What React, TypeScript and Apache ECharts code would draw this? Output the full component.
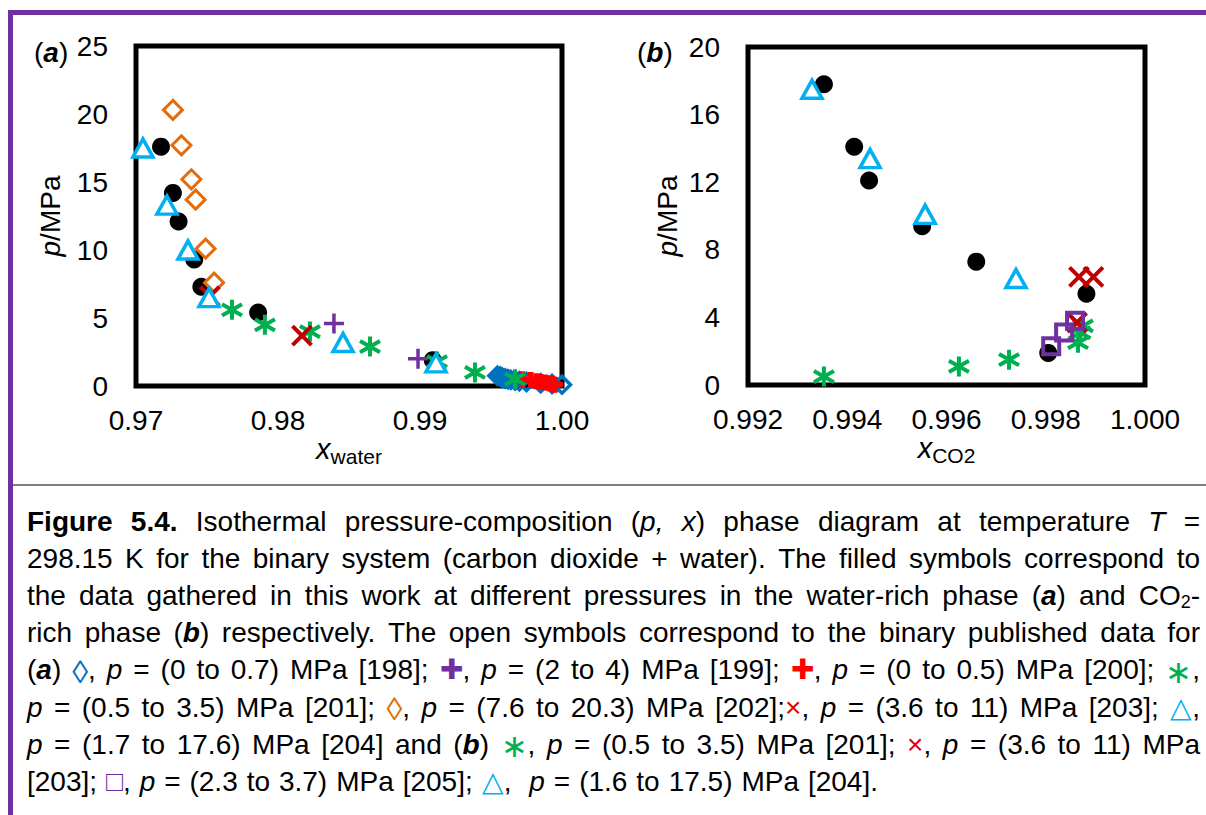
import React, { useEffect, useRef } from 'react';
import * as echarts from 'echarts';

const FONT = '"Liberation Sans", Arial, Helvetica, sans-serif';

// ---------- axis ranges [min, max, interval] ----------
const xAxisA = [0.97, 1.0, 0.01];
const yAxisA = [0, 25, 5];
const xAxisB = [0.992, 1.0, 0.002];
const yAxisB = [0, 20, 4];

// ---------- panel (a): water-rich phase, [x_water, p/MPa] ----------
const thisWorkA = [[0.97176, 17.6], [0.9726, 14.2], [0.973, 12.1], [0.9741, 9.3], [0.9746, 7.3], [0.9786, 5.4], [0.9909, 1.9]];
const ref198A = [[0.99545, 0.75], [0.99565, 0.7], [0.9958, 0.6], [0.996, 0.55], [0.9962, 0.5], [0.9964, 0.45], [0.9967, 0.4], [0.997, 0.35], [0.9975, 0.3], [0.9985, 0.2], [0.9993, 0.15], [1.0, 0.1]];
const ref199A = [[0.98394, 4.6], [0.98986, 2.0]];
const ref200A = [[0.9972, 0.5], [0.9978, 0.45], [0.9982, 0.35], [0.9985, 0.3], [0.9988, 0.25], [0.9991, 0.2], [0.9993, 0.15], [0.9995, 0.1]];
const ref201A = [[0.97676, 5.6], [0.97908, 4.5], [0.98225, 4.0], [0.98648, 2.9], [0.9912, 1.8], [0.99387, 1.0], [0.99669, 0.5]];
const ref202A = [[0.9726, 20.3], [0.9732, 17.7], [0.9739, 15.2], [0.9742, 13.7], [0.9749, 10.1], [0.9755, 7.6]];
const ref203A = [[0.9752, 6.6], [0.98169, 3.7]];
const ref204A = [[0.97049, 17.5], [0.97218, 13.3], [0.97366, 10.0], [0.97514, 6.5], [0.98458, 3.2], [0.99113, 1.7]];

// ---------- panel (b): CO2-rich phase, [x_CO2, p/MPa] ----------
const thisWorkB = [[0.99353, 17.8], [0.99414, 14.1], [0.99444, 12.1], [0.99551, 9.4], [0.9966, 7.3], [0.99882, 5.4], [0.99805, 1.9]];
const ref201B = [[0.99353, 0.5], [0.99625, 1.1], [0.99726, 1.5], [0.99865, 2.5], [0.9987, 3.1], [0.99875, 3.5]];
const ref203B = [[0.99867, 6.4], [0.99896, 6.4], [0.99863, 3.7]];
const ref205B = [[0.99811, 2.3], [0.99837, 3.1], [0.99859, 3.8]];
const ref204B = [[0.99329, 17.5], [0.99446, 13.4], [0.99557, 10.1], [0.9974, 6.3]];

// ---------- caption ----------
type Seg = [string, string?, string?];
const captionLines: Seg[][] = [
  [['Figure 5.4.', 'b'], [' Isothermal pressure-composition ('], ['p, x', 'i'], [') phase diagram at temperature '], ['T', 'i'], [' =']],
  [['298.15 K for the binary system (carbon dioxide + water). The filled symbols correspond to']],
  [['the data gathered in this work at different pressures in the water-rich phase ('], ['a', 'bi'], [') and CO'], ['2', 'sub'], ['-']],
  [['rich phase ('], ['b', 'bi'], [') respectively. The open symbols correspond to the binary published data for']],
  [['('], ['a', 'bi'], [') '], ['◊', 'sym', '#0070C0'], [', '], ['p', 'i'], [' = (0 to 0.7) MPa [198]; '], ['✚', 'n', '#7030A0'], [', '], ['p', 'i'], [' = (2 to 4) MPa [199]; '], ['✚', 'n', '#FF0000'], [', '], ['p', 'i'], [' = (0 to 0.5) MPa [200]; '], ['∗', 'sym', '#00B050'], [',']],
  [['p', 'i'], [' = (0.5 to 3.5) MPa [201]; '], ['◊', 'sym', '#E46C0A'], [', '], ['p', 'i'], [' = (7.6 to 20.3) MPa [202];'], ['×', 'n', '#E00000'], [', '], ['p', 'i'], [' = (3.6 to 11) MPa [203]; '], ['△', 'n', '#00B0F0'], [',']],
  [['p', 'i'], [' = (1.7 to 17.6) MPa [204] and ('], ['b', 'bi'], [') '], ['∗', 'sym', '#00B050'], [', '], ['p', 'i'], [' = (0.5 to 3.5) MPa [201]; '], ['×', 'n', '#E00000'], [', '], ['p', 'i'], [' = (3.6 to 11) MPa']],
  [['[203]; '], ['□', 'n', '#7030A0'], [', '], ['p', 'i'], [' = (2.3 to 3.7) MPa [205]; '], ['△', 'n', '#00B0F0'], [',  '], ['p', 'i'], [' = (1.6 to 17.5) MPa [204].']],
];

const CAP_SIZE = 28;
const CAP_X0 = 27;
const CAP_X1 = 1200;
const CAP_Y0 = 521;
const CAP_LH = 37.2;

function segFont(st: string) {
  const size = st === 'sub' ? 18 : st === 'sym' ? 32 : CAP_SIZE;
  const weight = st === 'b' || st === 'bi' ? 'bold' : 'normal';
  const style = st === 'i' || st === 'bi' ? 'italic' : 'normal';
  return { size, weight, style };
}

function buildCaption(): any[] {
  const canvas = document.createElement('canvas');
  const ctx = canvas.getContext('2d')!;
  const measure = (t: string, st: string) => {
    const f = segFont(st);
    ctx.font = `${f.style} ${f.weight} ${f.size}px ${FONT}`;
    return ctx.measureText(t).width;
  };
  const els: any[] = [];
  ctx.font = `normal normal ${CAP_SIZE}px ${FONT}`;
  const spaceW = ctx.measureText(' ').width;
  captionLines.forEach((segs, li) => {
    const words: { t: string; st: string; c: string }[][] = [[]];
    segs.forEach(([t, st = 'n', c = '#000']) => {
      t.split(' ').forEach((p, k) => {
        if (k > 0) words.push([]);
        if (p) words[words.length - 1].push({ t: p, st, c });
      });
    });
    const widths = words.map((w) => w.reduce((s, p) => s + measure(p.t, p.st), 0));
    const total = widths.reduce((a, b) => a + b, 0);
    const justify = li < captionLines.length - 1;
    const gap = justify ? (CAP_X1 - CAP_X0 - total) / (words.length - 1) : spaceW * 1.15;
    const y = CAP_Y0 + li * CAP_LH;
    let x = CAP_X0;
    words.forEach((w) => {
      w.forEach((p) => {
        const f = segFont(p.st);
        els.push({
          type: 'text',
          x,
          y: p.st === 'sub' ? y + 7 : p.st === 'sym' ? y + 2 : y,
          silent: true,
          style: {
            text: p.t,
            fill: p.c,
            fontSize: f.size,
            fontWeight: f.weight,
            fontStyle: f.style,
            fontFamily: FONT,
            align: 'left',
            verticalAlign: 'middle',
          },
        });
        x += measure(p.t, p.st);
      });
      x += gap;
    });
  });
  return els;
}

// ---------- symbols ----------
const SYM_CROSS = 'path://M0,0L10,10M10,0L0,10';
const SYM_STAR = 'path://M5,0L5,10M0.8,2.2L9.2,7.8M0.8,7.8L9.2,2.2';
const SYM_PLUS = 'path://M5,0L5,10M0,5L10,5';
const SYM_PLUS_HEAVY = 'path://M3.2,0H6.8V3.2H10V6.8H6.8V10H3.2V6.8H0V3.2H3.2Z';

const COLORS = {
  black: '#000000',
  blue: '#0070C0',
  purple: '#7030A0',
  red: '#FF0000',
  green: '#00B050',
  orange: '#E46C0A',
  darkRed: '#C00000',
  cyan: '#00B0F0',
};

function sc(name: string, data: number[][], idx: number, symbol: string, size: any, item: any, z = 2) {
  return {
    name,
    type: 'scatter',
    xAxisIndex: idx,
    yAxisIndex: idx,
    data,
    symbol,
    symbolSize: size,
    itemStyle: { opacity: 1, ...item },
    clip: false,
    silent: true,
    z,
  };
}

const axisLabelStyle = { color: '#000', fontSize: 28, fontFamily: FONT };

function xAxis(idx: number, r: number[], dec: number, sub: string, gap: number) {
  return {
    type: 'value',
    gridIndex: idx,
    min: r[0],
    max: r[1],
    interval: r[2],
    axisLine: { show: false },
    axisTick: { show: false },
    splitLine: { show: false },
    axisLabel: { ...axisLabelStyle, margin: 20, formatter: (v: number) => v.toFixed(dec) },
    name: `{i|x}{s|${sub}}`,
    nameLocation: 'middle',
    nameGap: gap,
    nameTextStyle: {
      color: '#000',
      rich: {
        i: { fontStyle: 'italic', fontSize: 29, fontFamily: FONT, color: '#000' },
        s: { fontSize: 21, fontFamily: FONT, color: '#000', padding: [14, 0, 0, 0] },
      },
    },
  };
}

function yAxis(idx: number, r: number[], gap: number) {
  return {
    type: 'value',
    gridIndex: idx,
    min: r[0],
    max: r[1],
    interval: r[2],
    axisLine: { show: false },
    axisTick: { show: false },
    splitLine: { show: false },
    axisLabel: { ...axisLabelStyle, margin: 28 },
    name: '{i|p}/MPa',
    nameLocation: 'middle',
    nameRotate: 90,
    nameGap: gap,
    nameTextStyle: {
      color: '#000',
      fontSize: 28,
      fontFamily: FONT,
      rich: { i: { fontStyle: 'italic', fontSize: 28, fontFamily: FONT, color: '#000' } },
    },
  };
}

export default function App() {
  const ref = useRef<HTMLDivElement>(null);
  useEffect(() => {
    if (!ref.current) return;
    const chart = echarts.init(ref.current, null, { renderer: 'svg' });
    const open = (c: string, bw: number) => ({ color: '#fff', borderColor: c, borderWidth: bw });
    const hollow = (c: string, bw: number) => ({ color: 'transparent', borderColor: c, borderWidth: bw });
    chart.setOption({
      animation: false,
      backgroundColor: '#fff',
      grid: [
        { left: 136, top: 46, width: 426, height: 340, show: true, borderColor: '#000', borderWidth: 5, backgroundColor: 'transparent' },
        { left: 748, top: 47, width: 397, height: 338, show: true, borderColor: '#000', borderWidth: 5, backgroundColor: 'transparent' },
      ],
      xAxis: [xAxis(0, xAxisA, 2, 'water', 42), xAxis(1, xAxisB, 3, 'CO2', 42)],
      yAxis: [yAxis(0, yAxisA, 72), yAxis(1, yAxisB, 67)],
      series: [
        sc('This work (a)', thisWorkA, 0, 'circle', 18, { color: COLORS.black }),
        sc('[198]', ref198A, 0, 'diamond', 17, hollow(COLORS.blue, 3.5)),
        sc('[199]', ref199A, 0, SYM_PLUS, 20, hollow(COLORS.purple, 3.5)),
        sc('[200]', ref200A, 0, SYM_PLUS_HEAVY, 16, { color: COLORS.red }),
        sc('[201] (a)', ref201A, 0, SYM_STAR, 20, hollow(COLORS.green, 4)),
        sc('[202]', ref202A, 0, 'diamond', 19, open(COLORS.orange, 3)),
        sc('[203] (a)', ref203A, 0, SYM_CROSS, 19, hollow(COLORS.darkRed, 4)),
        sc('[204] (a)', ref204A, 0, 'triangle', [20, 18], open(COLORS.cyan, 3.5)),

        sc('This work (b)', thisWorkB, 1, 'circle', 18, { color: COLORS.black }),
        sc('[201] (b)', ref201B, 1, SYM_STAR, 20, hollow(COLORS.green, 4)),
        sc('[203] (b)', ref203B, 1, SYM_CROSS, 19, hollow(COLORS.darkRed, 4)),
        sc('[205]', ref205B, 1, 'rect', 16, hollow(COLORS.purple, 4)),
        sc('[204] (b)', ref204B, 1, 'triangle', [20, 18], open(COLORS.cyan, 3.5)),
      ],
      graphic: [
        { type: 'rect', silent: true, shape: { x: 8, y: 10, width: 1198, height: 5 }, style: { fill: '#7030A0' } },
        { type: 'rect', silent: true, shape: { x: 8, y: 10, width: 5, height: 805 }, style: { fill: '#7030A0' } },
        { type: 'line', silent: true, shape: { x1: 13, y1: 485, x2: 1206, y2: 485 }, style: { stroke: '#000', lineWidth: 1 } },
        {
          type: 'text', x: 34, y: 52, silent: true,
          style: {
            text: '({bi|a})', fontSize: 28, fontFamily: FONT, fill: '#000', verticalAlign: 'middle',
            rich: { bi: { fontWeight: 'bold', fontStyle: 'italic', fontSize: 28, fontFamily: FONT } },
          },
        },
        {
          type: 'text', x: 637, y: 52, silent: true,
          style: {
            text: '({bi|b})', fontSize: 28, fontFamily: FONT, fill: '#000', verticalAlign: 'middle',
            rich: { bi: { fontWeight: 'bold', fontStyle: 'italic', fontSize: 28, fontFamily: FONT } },
          },
        },
        ...buildCaption(),
      ],
    });
    return () => chart.dispose();
  }, []);
  return (
    <div
      ref={ref}
      style={{ position: 'fixed', left: 0, top: 0, width: 1206, height: 815, background: '#fff' }}
    />
  );
}
